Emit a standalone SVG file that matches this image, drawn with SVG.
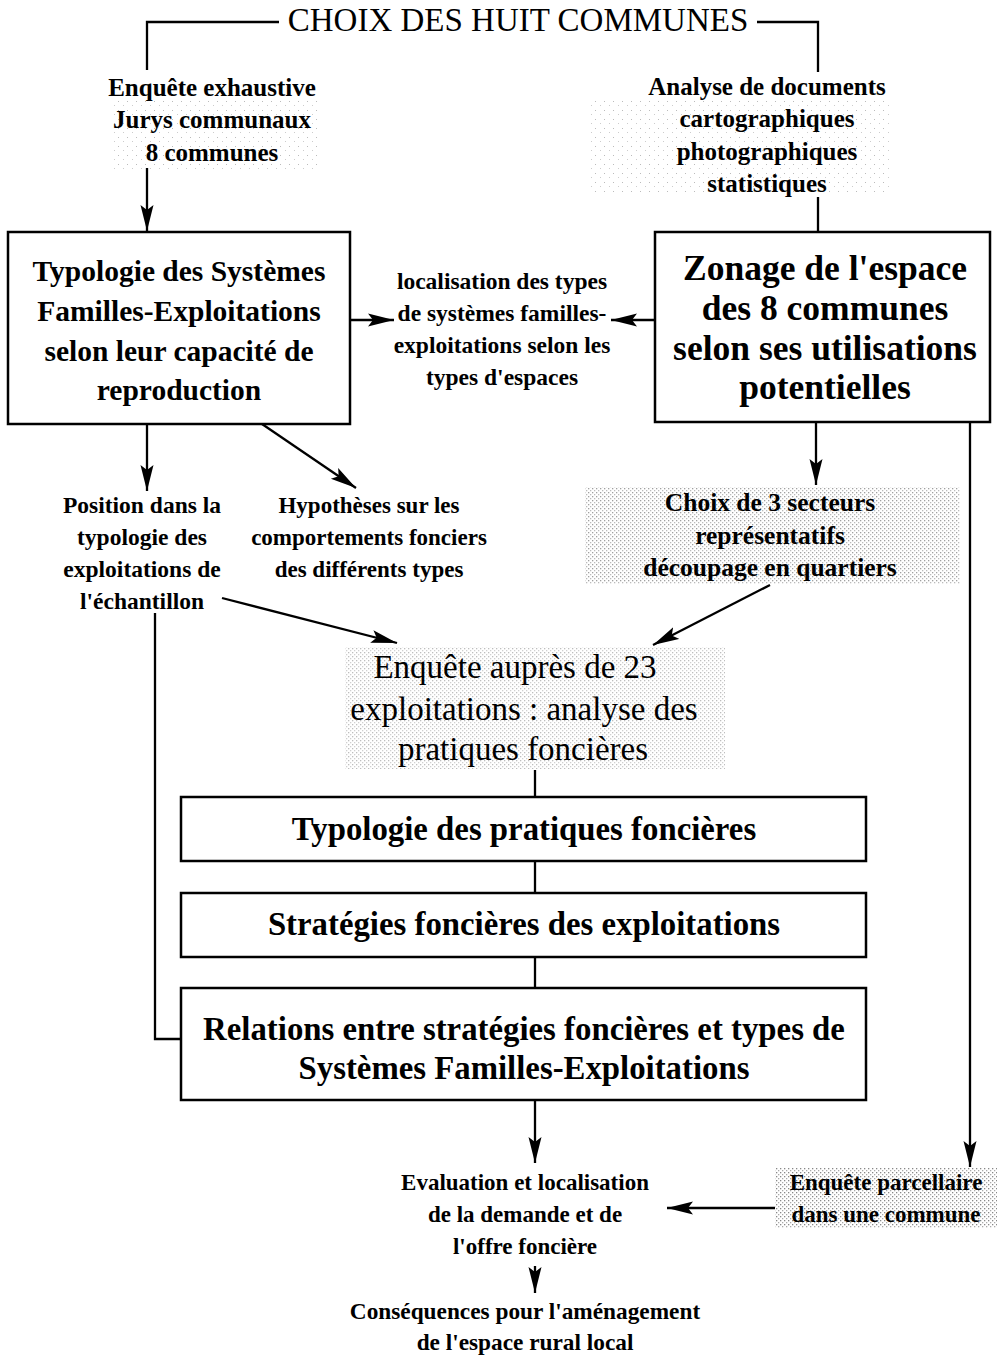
<svg xmlns="http://www.w3.org/2000/svg" width="997" height="1355" viewBox="0 0 997 1355">
<style>
text{font-family:"Liberation Serif","Times New Roman",serif;fill:#000;text-anchor:middle}
.b{font-weight:bold}
.box{fill:#fff;stroke:#000;stroke-width:2.5}
.ln{fill:none;stroke:#000;stroke-width:2.3}
</style>
<defs>
<marker id="ah" markerUnits="userSpaceOnUse" markerWidth="28" markerHeight="16" refX="26" refY="8" orient="auto">
<path d="M0,1.5 L26,8 L0,14.5 L5,8 z" fill="#000"/>
</marker>
<pattern id="dots" width="4" height="4" patternUnits="userSpaceOnUse">
<rect x="0" y="0" width="1.3" height="1.3" fill="#888"/>
<rect x="2" y="2" width="1.3" height="1.3" fill="#aaa"/>
</pattern>
<pattern id="ldots" width="9" height="9" patternUnits="userSpaceOnUse">
<rect x="1" y="2" width="1" height="1" fill="#bbb"/>
<rect x="6" y="6" width="1" height="1" fill="#ccc"/>
</pattern>
</defs>
<rect width="997" height="1355" fill="#fff"/>

<g id="stipple">
<rect x="585" y="487" width="375" height="97" fill="url(#dots)" opacity="0.8"/>
<rect x="345" y="647" width="380" height="122" fill="url(#dots)" opacity="0.55"/>
<rect x="775" y="1168" width="222" height="60" fill="url(#dots)"/>
<rect x="110" y="100" width="210" height="70" fill="url(#ldots)"/>
<rect x="590" y="100" width="300" height="95" fill="url(#ldots)"/>
</g>

<g id="connectors">
<polyline class="ln" points="279,22 147,22 147,70"/>
<polyline class="ln" points="757,22 818,22 818,72"/>
<line class="ln" x1="147" y1="168" x2="147" y2="231" marker-end="url(#ah)"/>
<line class="ln" x1="818" y1="197" x2="818" y2="232"/>
<line class="ln" x1="350" y1="320" x2="394" y2="320" marker-end="url(#ah)"/>
<line class="ln" x1="655" y1="320" x2="611" y2="320" marker-end="url(#ah)"/>
<line class="ln" x1="147" y1="424" x2="147" y2="491" marker-end="url(#ah)"/>
<line class="ln" x1="262" y1="424" x2="356" y2="488" marker-end="url(#ah)"/>
<line class="ln" x1="816" y1="422" x2="816" y2="485" marker-end="url(#ah)"/>
<line class="ln" x1="970" y1="422" x2="970" y2="1167" marker-end="url(#ah)"/>
<line class="ln" x1="222" y1="598" x2="397" y2="643" marker-end="url(#ah)"/>
<line class="ln" x1="770" y1="585" x2="653" y2="645" marker-end="url(#ah)"/>
<line class="ln" x1="535" y1="770" x2="535" y2="797"/>
<line class="ln" x1="535" y1="861" x2="535" y2="893"/>
<line class="ln" x1="535" y1="957" x2="535" y2="988"/>
<polyline class="ln" points="155,613 155,1039 181,1039"/>
<line class="ln" x1="535" y1="1100" x2="535" y2="1163" marker-end="url(#ah)"/>
<line class="ln" x1="775" y1="1208" x2="667" y2="1208" marker-end="url(#ah)"/>
<line class="ln" x1="535" y1="1266" x2="535" y2="1293" marker-end="url(#ah)"/>
</g>

<g id="title"><text x="518" y="31" font-size="33">CHOIX DES HUIT COMMUNES</text></g>

<g id="n-enquete">
<text class="b" x="212" y="96" font-size="25">Enquête exhaustive</text>
<text class="b" x="212" y="128" font-size="25">Jurys communaux</text>
<text class="b" x="212" y="161" font-size="25">8 communes</text>
</g>

<g id="n-analyse">
<text class="b" x="767" y="95" font-size="25">Analyse de documents</text>
<text class="b" x="767" y="127" font-size="25">cartographiques</text>
<text class="b" x="767" y="160" font-size="25">photographiques</text>
<text class="b" x="767" y="192" font-size="25">statistiques</text>
</g>

<g id="n-typologie-sfe">
<rect class="box" x="8" y="232" width="342" height="192"/>
<text class="b" x="179" y="281" font-size="29.5">Typologie des Systèmes</text>
<text class="b" x="179" y="321" font-size="29.5">Familles-Exploitations</text>
<text class="b" x="179" y="361" font-size="29.5">selon leur capacité de</text>
<text class="b" x="179" y="400" font-size="29.5">reproduction</text>
</g>

<g id="n-zonage">
<rect class="box" x="655" y="232" width="335" height="190"/>
<text class="b" x="825" y="280" font-size="35.5">Zonage de l'espace</text>
<text class="b" x="825" y="320" font-size="35.5">des 8 communes</text>
<text class="b" x="825" y="360" font-size="35.5">selon ses utilisations</text>
<text class="b" x="825" y="399" font-size="35.5">potentielles</text>
</g>

<g id="n-localisation">
<text class="b" x="502" y="289" font-size="23.5">localisation des types</text>
<text class="b" x="502" y="321" font-size="23.5">de systèmes familles-</text>
<text class="b" x="502" y="353" font-size="23.5">exploitations selon les</text>
<text class="b" x="502" y="385" font-size="23.5">types d'espaces</text>
</g>

<g id="n-position">
<text class="b" x="142" y="513" font-size="23.5">Position dans la</text>
<text class="b" x="142" y="545" font-size="23.5">typologie des</text>
<text class="b" x="142" y="577" font-size="23.5">exploitations de</text>
<text class="b" x="142" y="609" font-size="23.5">l'échantillon</text>
</g>

<g id="n-hypotheses">
<text class="b" x="369" y="513" font-size="23">Hypothèses sur les</text>
<text class="b" x="369" y="545" font-size="23">comportements fonciers</text>
<text class="b" x="369" y="577" font-size="23">des différents types</text>
</g>

<g id="n-choix3">
<text class="b" x="770" y="511" font-size="25.5">Choix de 3 secteurs</text>
<text class="b" x="770" y="544" font-size="25.5">représentatifs</text>
<text class="b" x="770" y="576" font-size="25.5">découpage en quartiers</text>
</g>

<g id="n-enquete23">
<text x="515" y="678" font-size="33">Enquête auprès de 23</text>
<text x="524" y="720" font-size="33">exploitations : analyse des</text>
<text x="523" y="760" font-size="33">pratiques foncières</text>
</g>

<g id="n-typo-pratiques">
<rect class="box" x="181" y="797" width="685" height="64"/>
<text class="b" x="524" y="840" font-size="32.8">Typologie des pratiques foncières</text>
</g>

<g id="n-strategies">
<rect class="box" x="181" y="893" width="685" height="64"/>
<text class="b" x="524" y="935" font-size="32.8">Stratégies foncières des exploitations</text>
</g>

<g id="n-relations">
<rect class="box" x="181" y="988" width="685" height="112"/>
<text class="b" x="524" y="1040" font-size="32.8">Relations entre stratégies foncières et types de</text>
<text class="b" x="524" y="1079" font-size="32.8">Systèmes Familles-Exploitations</text>
</g>

<g id="n-evaluation">
<text class="b" x="525" y="1190" font-size="23">Evaluation et localisation</text>
<text class="b" x="525" y="1222" font-size="23">de la demande et de</text>
<text class="b" x="525" y="1254" font-size="23">l'offre foncière</text>
</g>

<g id="n-parcellaire">
<text class="b" x="886" y="1190" font-size="23">Enquête parcellaire</text>
<text class="b" x="886" y="1222" font-size="23">dans une commune</text>
</g>

<g id="n-consequences">
<text class="b" x="525" y="1319" font-size="23.3">Conséquences pour l'aménagement</text>
<text class="b" x="525" y="1350" font-size="23.3">de l'espace rural local</text>
</g>
</svg>
